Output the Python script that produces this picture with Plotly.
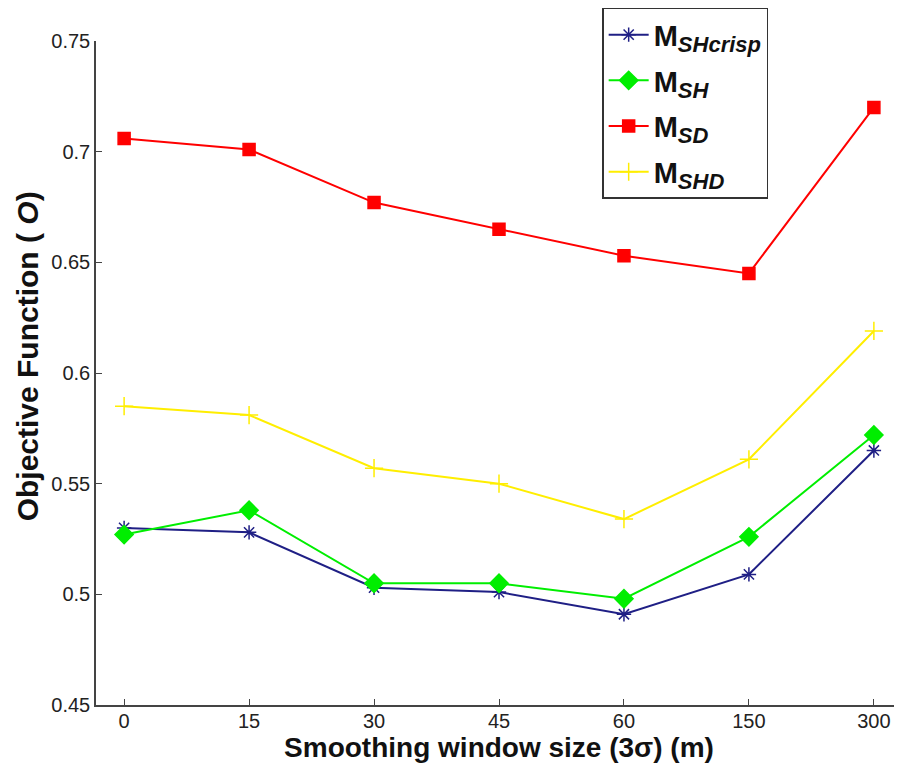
import plotly.graph_objects as go

categories = ["0", "15", "30", "45", "60", "150", "300"]
m_shcrisp = [0.530, 0.528, 0.503, 0.501, 0.491, 0.509, 0.565]
m_sh = [0.527, 0.538, 0.505, 0.505, 0.498, 0.526, 0.572]
m_sd = [0.706, 0.701, 0.677, 0.665, 0.653, 0.645, 0.720]
m_shd = [0.585, 0.581, 0.557, 0.550, 0.534, 0.561, 0.619]
y_ticks = [0.45, 0.5, 0.55, 0.6, 0.65, 0.7, 0.75]
y_tick_labels = ["0.45", "0.5", "0.55", "0.6", "0.65", "0.7", "0.75"]

FONT = "Liberation Sans, Arial, sans-serif"

def lbl(sub):
    return "<b>M<sub><i><span style='font-size:22px'>" + sub + "</span></i></sub></b>"

fig = go.Figure()
series = [
    (m_shcrisp, "SHcrisp", "#1f1f85", "asterisk-open", 12),
    (m_sh, "SH", "#00ee00", "diamond", 14),
    (m_sd, "SD", "#ff0000", "square", 12),
    (m_shd, "SHD", "#ffee00", "cross-thin-open", 13),
]
for i, (vals, sub, col, sym, sz) in enumerate(series):
    fig.add_trace(go.Scatter(
        x=categories, y=vals, mode="lines+markers", name=lbl(sub),
        legendgroup=str(i),
        line=dict(color=col, width=2),
        marker=dict(symbol=sym, size=sz, color=col, line=dict(color=col, width=1.5)),
    ))

# page body has an 8px margin: figure spans x 8..902, y 8..765
fig.update_layout(
    width=894, height=757,
    margin=dict(l=88, r=0, t=33, b=60, autoexpand=False),
    paper_bgcolor="white", plot_bgcolor="white",
    font=dict(family=FONT, color="#111111"),
    legend=dict(
        x=0.628, y=1.05, xanchor="left", yanchor="top",
        bordercolor="#333333", borderwidth=1.5, bgcolor="white",
        font=dict(size=29, family=FONT, color="#111111"),
        tracegroupgap=5, itemwidth=40,
    ),
    xaxis=dict(
        type="category", range=[-0.225, 6.225],
        showgrid=False, zeroline=False,
        showline=True, linecolor="#444444", linewidth=1.5,
        ticks="inside", ticklen=6, tickcolor="#444444",
        tickfont=dict(size=20, family=FONT, color="#222222"),
        ticklabelstandoff=-3,
        title=dict(text="<b>Smoothing window size (3σ) (m)</b>",
                   font=dict(size=28, family=FONT, color="#111111"), standoff=0),
    ),
    yaxis=dict(
        range=[0.45, 0.75], tickvals=y_ticks, ticktext=y_tick_labels,
        showgrid=False, zeroline=False,
        showline=True, linecolor="#444444", linewidth=1.5,
        ticks="inside", ticklen=6, tickcolor="#444444",
        tickfont=dict(size=20, family=FONT, color="#222222"),
        title=dict(text="&nbsp;&nbsp;&nbsp;&nbsp;<b>Objective Function ( <i>O</i>)</b>",
                   font=dict(size=30, family=FONT, color="#111111"), standoff=4),
    ),
)

fig.write_html("out.html")
